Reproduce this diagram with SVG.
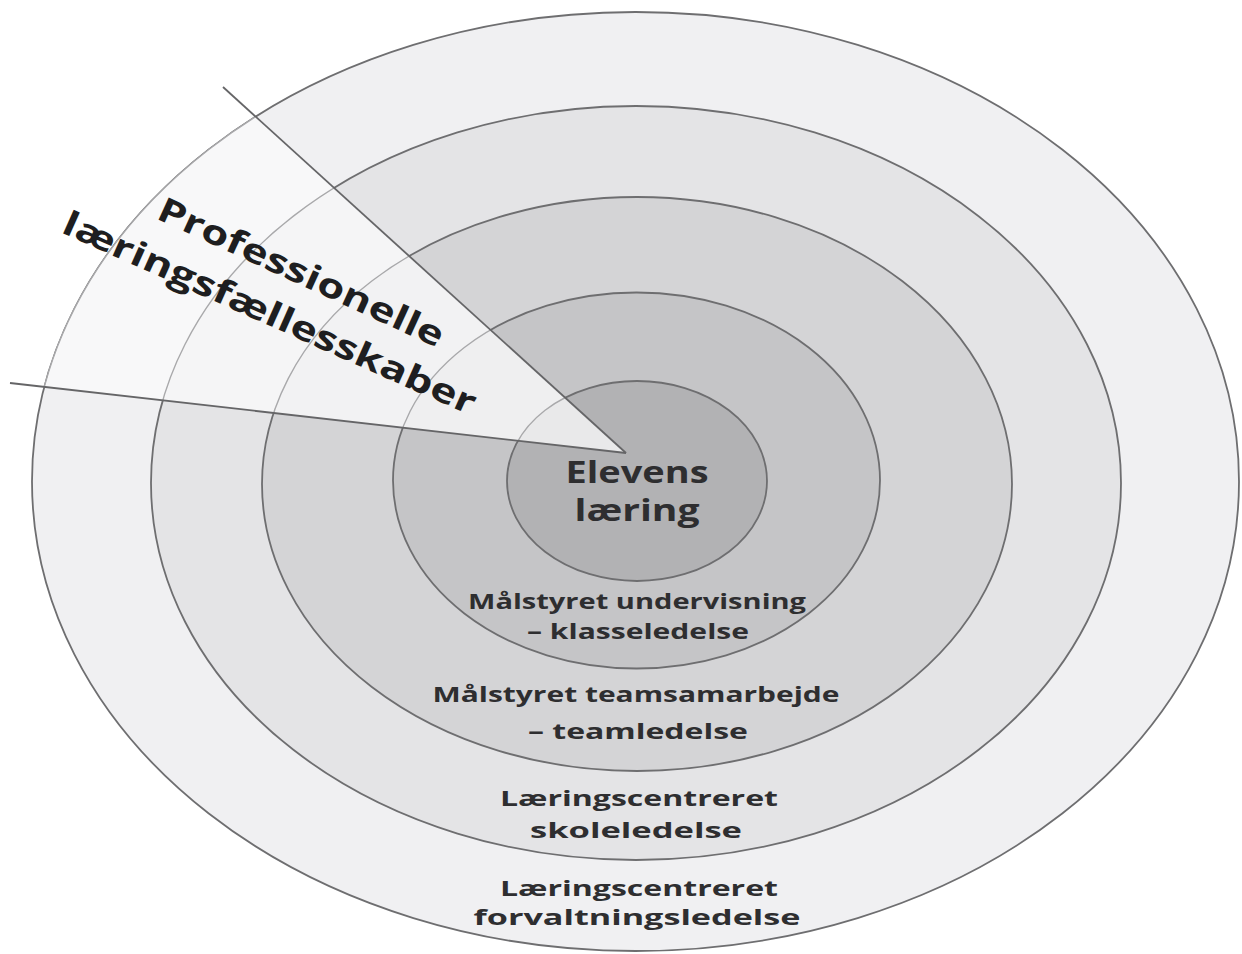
<svg xmlns="http://www.w3.org/2000/svg" width="1242" height="954" viewBox="0 0 1242 954">
  <style>
    .ring { stroke: #6e6e70; stroke-width: 1.8; }
    .wring { stroke: #a9a9ab; stroke-width: 1.4; }
    .lbl { font-family: "Open Sans", "Liberation Sans", sans-serif; font-weight: 700; fill: #2e2e30; text-anchor: middle; }
    .big { font-family: "Open Sans", "Liberation Sans", sans-serif; font-weight: 700; fill: #1e1e20; }
    .edge { stroke: #656567; stroke-width: 1.8; fill: none; }
  </style>
  <defs>
    <clipPath id="wedgeClip">
      <polygon points="626,453 223,87 -200,-300 -200,360 10,383"/>
    </clipPath>
  </defs>
  <rect width="1242" height="954" fill="#ffffff"/>

  <g id="ring-forvaltning">
    <ellipse cx="635.5" cy="481.5" rx="603.5" ry="469.5" fill="#f0f0f2" class="ring"/>
  </g>
  <g id="ring-skole">
    <ellipse cx="636" cy="483" rx="485" ry="377" fill="#e4e4e6" class="ring"/>
  </g>
  <g id="ring-team">
    <ellipse cx="637" cy="484" rx="375" ry="287" fill="#d4d4d6" class="ring"/>
  </g>
  <g id="ring-klasse">
    <ellipse cx="636.5" cy="480.5" rx="243.5" ry="188" fill="#c5c5c7" class="ring"/>
  </g>
  <g id="ring-elev">
    <ellipse cx="637" cy="481" rx="130" ry="100" fill="#b2b2b4" class="ring"/>
  </g>

  <g id="wedge" clip-path="url(#wedgeClip)">
    <ellipse cx="635.5" cy="481.5" rx="603.5" ry="469.5" fill="#f8f8f9" class="wring"/>
    <ellipse cx="636" cy="483" rx="485" ry="377" fill="#f5f5f6" class="wring"/>
    <ellipse cx="637" cy="484" rx="375" ry="287" fill="#f2f2f3" class="wring"/>
    <ellipse cx="636.5" cy="480.5" rx="243.5" ry="188" fill="#efeff0" class="wring"/>
    <ellipse cx="637" cy="481" rx="130" ry="100" fill="#e9e9ea" class="wring"/>
  </g>

  <g id="connectors">
    <line x1="223" y1="87" x2="626" y2="453" class="edge"/>
    <line x1="10" y1="383" x2="626" y2="453" class="edge"/>
  </g>

  <g id="label-plf">
    <text class="big" font-size="34" transform="translate(155,218) rotate(24.7)" textLength="311" lengthAdjust="spacingAndGlyphs">Professionelle</text>
    <text class="big" font-size="34" transform="translate(60,232) rotate(24.1)" textLength="449" lengthAdjust="spacingAndGlyphs">læringsfællesskaber</text>
  </g>

  <g id="label-elev">
    <text class="lbl" x="637" y="483" font-size="31" textLength="143" lengthAdjust="spacingAndGlyphs" fill="#262628">Elevens</text>
    <text class="lbl" x="637" y="521" font-size="31" textLength="125" lengthAdjust="spacingAndGlyphs" fill="#262628">læring</text>
  </g>

  <g id="label-klasse">
    <text class="lbl" x="637" y="609" font-size="21" textLength="338" lengthAdjust="spacingAndGlyphs">Målstyret undervisning</text>
    <text class="lbl" x="638" y="639" font-size="21" textLength="222" lengthAdjust="spacingAndGlyphs">– klasseledelse</text>
  </g>

  <g id="label-team">
    <text class="lbl" x="636" y="702" font-size="21" textLength="407" lengthAdjust="spacingAndGlyphs">Målstyret teamsamarbejde</text>
    <text class="lbl" x="638" y="739" font-size="21" textLength="220" lengthAdjust="spacingAndGlyphs">– teamledelse</text>
  </g>

  <g id="label-skole">
    <text class="lbl" x="639" y="806" font-size="22" textLength="278" lengthAdjust="spacingAndGlyphs">Læringscentreret</text>
    <text class="lbl" x="636" y="838" font-size="22" textLength="212" lengthAdjust="spacingAndGlyphs">skoleledelse</text>
  </g>

  <g id="label-forvaltning">
    <text class="lbl" x="639" y="896" font-size="22" textLength="278" lengthAdjust="spacingAndGlyphs">Læringscentreret</text>
    <text class="lbl" x="637" y="925" font-size="22" textLength="327" lengthAdjust="spacingAndGlyphs">forvaltningsledelse</text>
  </g>
</svg>
